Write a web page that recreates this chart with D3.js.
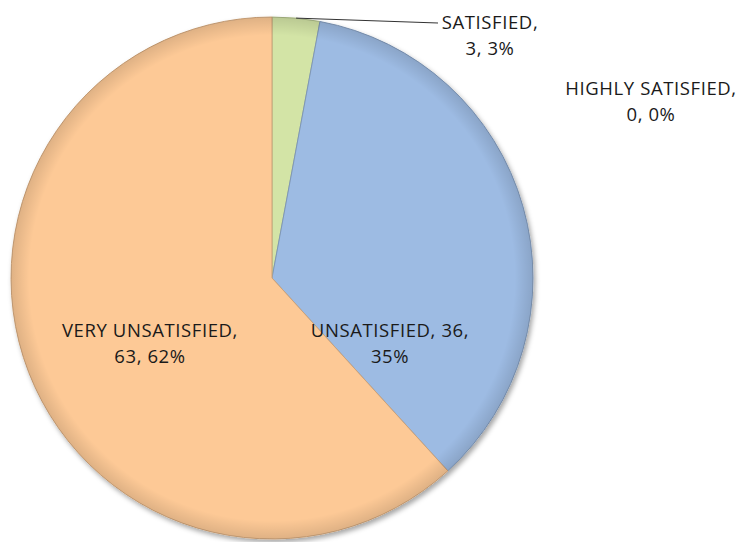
<!DOCTYPE html>
<html>
<head>
<meta charset="utf-8">
<script src="https://cdn.jsdelivr.net/npm/d3@7"></script>
<style>
  body { margin: 0; background: #fff; }
  text { font-family: "Open Sans", "Liberation Sans", sans-serif; font-size: 18.5px; letter-spacing: 0.6px; fill: #1a1a1a; }
</style>
</head>
<body>
<svg id="pieViz" width="738" height="542"></svg>
<script>
// data
var categories = ["HIGHLY SATISFIED", "SATISFIED", "UNSATISFIED", "VERY UNSATISFIED"];
var counts = [0, 3, 36, 63];
var percents = [0, 3, 35, 62];
var colors = ["#b9cde5", "#d3e4a6", "#9dbbe3", "#fdc996"];

// label layout (text anchors, not marks)
var labelPos = [
  {x: 651, y: 95},
  {x: 490, y: 29},
  {x: 390, y: 337},
  {x: 150, y: 337}
];
var labelLines = [
  function(i) { return [categories[i] + ",", counts[i] + ", " + percents[i] + "%"]; },
  function(i) { return [categories[i] + ",", counts[i] + ", " + percents[i] + "%"]; },
  function(i) { return [categories[i] + ", " + counts[i] + ",", percents[i] + "%"]; },
  function(i) { return [categories[i] + ",", counts[i] + ", " + percents[i] + "%"]; }
];

var svg = d3.select("#pieViz"),
    cx = 272, cy = 278, radius = 261;

var defs = svg.append("defs");
var f = defs.append("filter").attr("id", "shadow")
  .attr("x", "-10%").attr("y", "-10%").attr("width", "120%").attr("height", "120%");
f.append("feDropShadow").attr("dx", 2).attr("dy", 3).attr("stdDeviation", 2.5)
  .attr("flood-color", "#000").attr("flood-opacity", 0.35);

// soft rim shading like the original bevel
var rg = defs.append("radialGradient").attr("id", "rim")
  .attr("gradientUnits", "userSpaceOnUse").attr("cx", 0).attr("cy", 0).attr("r", radius);
rg.append("stop").attr("offset", "0.93").attr("stop-color", "#000").attr("stop-opacity", 0);
rg.append("stop").attr("offset", "1").attr("stop-color", "#000").attr("stop-opacity", 0.12);

var pie = d3.pie().sort(null).value(function(d) { return d; });
var arc = d3.arc().innerRadius(0).outerRadius(radius);
var arcs = pie(counts);

var g = svg.append("g").attr("transform", "translate(" + cx + "," + cy + ")");

g.append("g").attr("filter", "url(#shadow)")
  .selectAll("path")
  .data(arcs)
  .enter().append("path")
    .attr("d", arc)
    .attr("fill", function(d, i) { return colors[i]; })
    .attr("stroke", function(d, i) { return d3.color(colors[i]).darker(0.6); })
    .attr("stroke-width", 1);

g.append("circle").attr("r", radius).attr("fill", "url(#rim)").attr("pointer-events", "none");

// leader line for the thin slice
var sat = arcs[1];
var mid = (sat.startAngle + sat.endAngle) / 2;
var p0 = [Math.sin(mid) * radius, -Math.cos(mid) * radius];
svg.append("path")
  .attr("d", "M" + (cx + p0[0]) + "," + (cy + p0[1]) + " L" + 438 + "," + 23)
  .attr("stroke", "#333").attr("stroke-width", 1).attr("fill", "none");

categories.forEach(function(c, i) {
  var lines = labelLines[i](i);
  var t = svg.append("text")
    .attr("text-anchor", "middle")
    .attr("x", labelPos[i].x).attr("y", labelPos[i].y);
  lines.forEach(function(l, k) {
    t.append("tspan").attr("x", labelPos[i].x).attr("dy", k === 0 ? 0 : 26).text(l);
  });
});
</script>
</body>
</html>
